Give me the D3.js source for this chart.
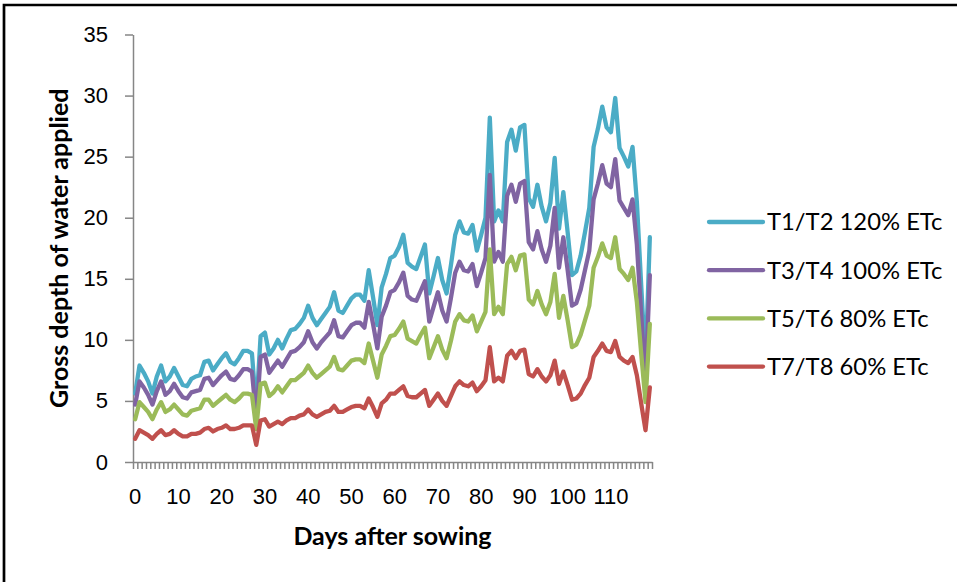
<!DOCTYPE html>
<html>
<head>
<meta charset="utf-8">
<script src="https://cdn.jsdelivr.net/npm/d3@7"></script>
<style>
  body { margin: 0; background: #fff; }
  svg { display: block; font-family: Lato, "Liberation Sans", sans-serif; }
</style>
</head>
<body>
<svg id="chart" width="957" height="582"></svg>
<script>
// days after sowing (categories) and axis labels
const days = d3.range(0, 120);
const xTickLabels = [0, 10, 20, 30, 40, 50, 60, 70, 80, 90, 100, 110];
const yTickLabels = [0, 5, 10, 15, 20, 25, 30, 35];

// gross depth of water applied, one list per treatment
const t1t2 = [5.6, 7.9, 7.3, 6.6, 5.6, 7.0, 7.9, 6.6, 7.0, 7.7,
    7.0, 6.3, 6.2, 6.8, 7.0, 7.1, 8.2, 8.3, 7.5, 8.0,
    8.5, 8.9, 8.2, 8.0, 8.5, 9.1, 9.1, 8.9, 4.3, 10.3,
    10.6, 8.8, 9.3, 10.0, 9.3, 10.1, 10.8, 10.9, 11.3, 11.8,
    12.8, 11.8, 11.2, 11.7, 12.2, 12.7, 13.9, 12.4, 12.2, 12.8,
    13.4, 13.7, 13.7, 13.2, 15.7, 13.5, 11.2, 14.3, 15.4, 16.7,
    16.9, 17.6, 18.6, 16.3, 16.0, 15.8, 16.8, 17.8, 13.8, 15.2,
    16.7, 14.9, 13.8, 16.1, 18.6, 19.7, 18.8, 18.7, 19.4, 17.3,
    18.6, 20.0, 28.2, 19.7, 20.6, 19.7, 26.2, 27.2, 25.5, 27.4,
    27.6, 21.6, 20.9, 22.7, 20.9, 19.7, 21.2, 24.9, 19.1, 22.1,
    18.8, 15.3, 15.6, 16.9, 18.8, 20.8, 25.8, 27.3, 29.1, 27.4,
    27.0, 29.8, 25.7, 25.0, 24.2, 25.8, 21.3, 14.5, 7.9, 18.4];

const t3t4 = [4.7, 6.6, 6.1, 5.5, 4.7, 5.8, 6.6, 5.5, 5.8, 6.4,
    5.8, 5.3, 5.2, 5.7, 5.8, 5.9, 6.8, 6.9, 6.3, 6.7,
    7.1, 7.4, 6.8, 6.7, 7.1, 7.6, 7.6, 7.4, 3.6, 8.6,
    8.8, 7.3, 7.8, 8.3, 7.8, 8.4, 9.0, 9.1, 9.4, 9.8,
    10.7, 9.8, 9.3, 9.8, 10.2, 10.6, 11.6, 10.3, 10.2, 10.7,
    11.2, 11.4, 11.4, 11.0, 13.1, 11.3, 9.3, 11.9, 12.8, 13.9,
    14.1, 14.7, 15.5, 13.6, 13.3, 13.2, 14.0, 14.8, 11.5, 12.7,
    13.9, 12.4, 11.5, 13.4, 15.5, 16.4, 15.7, 15.6, 16.2, 14.4,
    15.5, 16.7, 23.5, 16.4, 17.2, 16.4, 21.8, 22.7, 21.3, 22.8,
    23.0, 18.0, 17.4, 18.9, 17.4, 16.4, 17.7, 20.8, 15.9, 18.4,
    15.7, 12.8, 13.0, 14.1, 15.7, 17.3, 21.5, 22.8, 24.3, 22.8,
    22.5, 24.8, 21.4, 20.8, 20.2, 21.5, 17.8, 12.1, 6.6, 15.3];

const t5t6 = [3.5, 4.9, 4.5, 4.1, 3.5, 4.3, 4.9, 4.1, 4.3, 4.7,
    4.3, 3.9, 3.8, 4.2, 4.3, 4.4, 5.1, 5.1, 4.6, 4.9,
    5.2, 5.5, 5.1, 4.9, 5.2, 5.6, 5.6, 5.5, 2.7, 6.4,
    6.5, 5.4, 5.7, 6.2, 5.7, 6.2, 6.7, 6.7, 7.0, 7.3,
    7.9, 7.3, 6.9, 7.2, 7.5, 7.8, 8.6, 7.6, 7.5, 7.9,
    8.3, 8.4, 8.4, 8.1, 9.7, 8.3, 6.9, 8.8, 9.5, 10.3,
    10.4, 10.9, 11.5, 10.1, 9.9, 9.7, 10.4, 11.0, 8.5, 9.4,
    10.3, 9.2, 8.5, 9.9, 11.5, 12.1, 11.6, 11.5, 12.0, 10.7,
    11.5, 12.3, 17.4, 12.1, 12.7, 12.1, 16.2, 16.8, 15.7, 16.9,
    17.0, 13.3, 12.9, 14.0, 12.9, 12.1, 13.1, 15.4, 11.8, 13.6,
    11.6, 9.4, 9.6, 10.4, 11.6, 12.8, 15.9, 16.8, 17.9, 16.9,
    16.7, 18.4, 15.8, 15.4, 14.9, 15.9, 13.1, 8.9, 4.9, 11.3];

const t7t8 = [1.9, 2.6, 2.4, 2.2, 1.9, 2.3, 2.6, 2.2, 2.3, 2.6,
    2.3, 2.1, 2.1, 2.3, 2.3, 2.4, 2.7, 2.8, 2.5, 2.7,
    2.8, 3.0, 2.7, 2.7, 2.8, 3.0, 3.0, 3.0, 1.4, 3.4,
    3.5, 2.9, 3.1, 3.3, 3.1, 3.4, 3.6, 3.6, 3.8, 3.9,
    4.3, 3.9, 3.7, 3.9, 4.1, 4.2, 4.6, 4.1, 4.1, 4.3,
    4.5, 4.6, 4.6, 4.4, 5.2, 4.5, 3.7, 4.8, 5.1, 5.6,
    5.6, 5.9, 6.2, 5.4, 5.3, 5.3, 5.6, 5.9, 4.6, 5.1,
    5.6, 5.0, 4.6, 5.4, 6.2, 6.6, 6.3, 6.2, 6.5, 5.8,
    6.2, 6.7, 9.4, 6.6, 6.9, 6.6, 8.7, 9.1, 8.5, 9.1,
    9.2, 7.2, 7.0, 7.6, 7.0, 6.6, 7.1, 8.3, 6.4, 7.4,
    6.3, 5.1, 5.2, 5.6, 6.3, 6.9, 8.6, 9.1, 9.7, 9.1,
    9.0, 9.9, 8.6, 8.3, 8.1, 8.6, 7.1, 4.8, 2.6, 6.1];

const seriesNames = ["T1/T2 120% ETc", "T3/T4 100% ETc", "T5/T6 80% ETc", "T7/T8 60% ETc"];
const seriesValues = [t1t2, t3t4, t5t6, t7t8];
const seriesColors = ["#4BACC6", "#8064A2", "#9BBB59", "#C0504D"];

const svg = d3.select("#chart");
const plot = { left: 133, right: 652, top: 34.5, bottom: 462 };
const axisColor = "#868686";

// frame around the chart (only top and left edges are visible)
svg.append("path")
    .attr("d", "M4,590V5H960")
    .attr("fill", "none")
    .attr("stroke", "#000")
    .attr("stroke-width", 2.7);

const x = d3.scaleBand().domain(days).range([plot.left, plot.right]);
const xEdge = d3.scaleLinear().domain([0, days.length]).range([plot.left, plot.right]);
const y = d3.scaleLinear().domain([0, 35]).range([plot.bottom, plot.top]);

// y axis
const yAxis = svg.append("g")
    .attr("transform", `translate(${plot.left},0)`)
    .call(d3.axisLeft(y).tickValues(yTickLabels).tickSize(8).tickSizeOuter(0).tickPadding(17));
yAxis.selectAll("path, line").attr("stroke", axisColor).attr("stroke-width", 1.5);
yAxis.selectAll("text").attr("font-size", "22px").attr("fill", "#000");

// x axis: a tick between every day
const xComb = svg.append("g")
    .attr("transform", `translate(0,${plot.bottom})`)
    .call(d3.axisBottom(xEdge).tickValues(d3.range(0, days.length + 1)).tickSize(7).tickSizeOuter(0).tickFormat(""));
xComb.selectAll("path, line").attr("stroke", axisColor).attr("stroke-width", 1.5);

// x labels every 10 days
const xLabels = svg.append("g")
    .attr("transform", `translate(0,${plot.bottom})`)
    .call(d3.axisBottom(x).tickValues(xTickLabels).tickSize(0).tickPadding(26));
xLabels.select(".domain").remove();
xLabels.selectAll("text").attr("font-size", "22px").attr("fill", "#000");

// series lines
const line = d3.line()
    .x((d, i) => x(days[i]) + x.bandwidth() / 2)
    .y(d => y(d));

svg.append("g")
    .selectAll("path")
    .data(seriesValues)
    .enter()
    .append("path")
    .attr("d", line)
    .attr("fill", "none")
    .attr("stroke", (d, i) => seriesColors[i])
    .attr("stroke-width", 4.3)
    .attr("stroke-linejoin", "round")
    .attr("stroke-linecap", "round");

// legend
const legend = svg.append("g")
    .selectAll("g")
    .data(seriesNames)
    .enter()
    .append("g")
    .attr("transform", (d, i) => `translate(709,${222 + i * 48.2})`);

legend.append("line")
    .attr("x1", 0)
    .attr("x2", 54)
    .attr("stroke", (d, i) => seriesColors[i])
    .attr("stroke-width", 4.3)
    .attr("stroke-linecap", "round");

legend.append("text")
    .attr("x", 58)
    .attr("dy", "0.35em")
    .attr("font-size", "23.8px")
    .attr("fill", "#000")
    .text(d => d);

// axis titles
svg.append("text")
    .attr("x", (plot.left + plot.right) / 2)
    .attr("y", 545)
    .attr("text-anchor", "middle")
    .attr("font-size", "25px")
    .attr("font-weight", "bold")
    .text("Days after sowing");

svg.append("text")
    .attr("transform", `translate(59,${(plot.top + plot.bottom) / 2}) rotate(-90)`)
    .attr("text-anchor", "middle")
    .attr("dy", "0.35em")
    .attr("font-size", "25px")
    .attr("font-weight", "bold")
    .text("Gross depth of water applied");
</script>
</body>
</html>
